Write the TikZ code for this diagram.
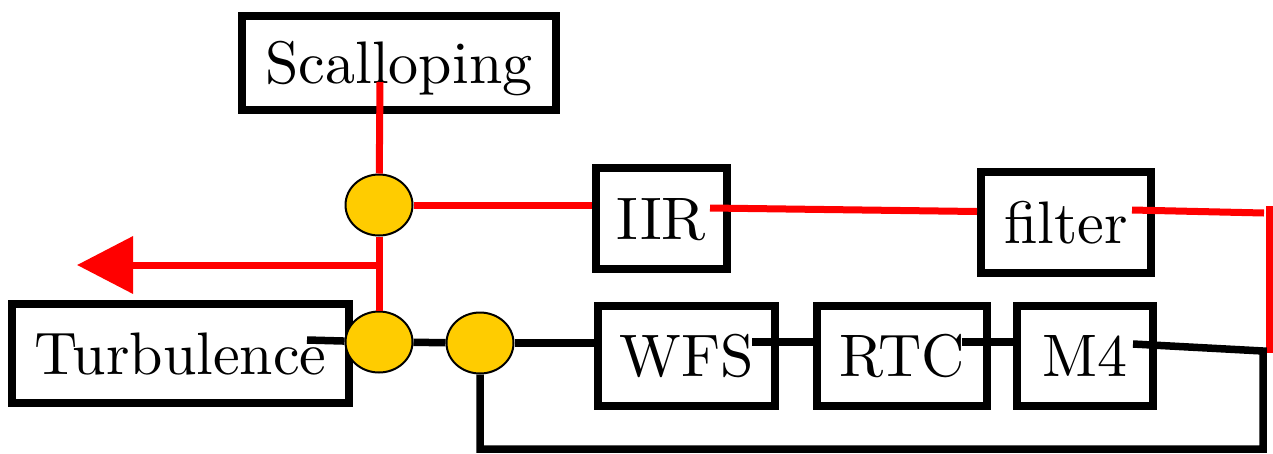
\documentclass[tikz,border=0pt]{standalone}
\usepackage{fontspec}
\IfFontExistsTF{lmroman10-regular.otf}
    {\newfontfamily\blockfont{lmroman10-regular.otf}}
    {\newfontfamily\blockfont{Latin Modern Roman}}
\usetikzlibrary{shapes.geometric, arrows.meta}

\definecolor{sumyellow}{RGB}{255,204,0}

\tikzset{
    block/.style={draw, line width=8pt, rectangle, inner sep=0pt,
        text height=41pt, text depth=0pt,
        font=\blockfont\fontsize{60}{66}\selectfont},
    sum/.style={draw, line width=2pt, ellipse, fill=sumyellow, inner sep=0pt,
        minimum width=67pt, minimum height=61pt},
    redline/.style={draw=red, line width=7pt},
    blackline/.style={draw=black, line width=7.5pt},
}

\begin{document}
\begin{tikzpicture}[x=1pt, y=-1pt]
    \useasboundingbox (0,0) rectangle (1273,453);

    % blocks
    \node[block, minimum width=314pt, minimum height=94pt]  (scal)  at (399,63)      {Scalloping};
    \node[block, minimum width=131pt, minimum height=101pt] (iir)   at (661.5,218.5) {IIR};
    \node[block, minimum width=170pt, minimum height=101pt] (filt)  at (1066,222.5)  {filter};
    \node[block, minimum width=337pt, minimum height=99pt]  (turb)  at (180.5,353.5) {Turbulence};
    \node[block, minimum width=177pt, minimum height=100pt] (wfs)   at (686.5,356)   {WFS};
    \node[block, minimum width=170pt, minimum height=100pt] (rtc)   at (902,356)     {RTC};
    \node[block, minimum width=136pt, minimum height=100pt] (mfour) at (1085,356)    {M4};

    % summing points
    \node[sum] (sumA) at (379,205) {};
    \node[sum] (sumB) at (379,342) {};
    \node[sum] (sumC) at (480,343) {};

    % tap points and corners
    \coordinate (scalTap) at (380,82);
    \coordinate (fbTap)   at (380,265);
    \coordinate (outTip)  at (77,265);
    \coordinate (iirOut)  at (710,208);
    \coordinate (filtOut) at (1132,210);
    \coordinate (rtJoin)  at (1264,213);
    \coordinate (rtTop)   at (1269,206);
    \coordinate (rtBot)   at (1269,353);
    \coordinate (turbOut) at (307,340);
    \coordinate (wfsOut)  at (752,342);
    \coordinate (rtcOut)  at (962,342);
    \coordinate (mOut)    at (1133,344);
    \coordinate (loopTR)  at (1263,351);
    \coordinate (loopBR)  at (1263,449);

    % red path
    \draw[redline] (scalTap) -- (sumA);
    \draw[redline] (sumA) -- (sumB);
    \draw[redline, -{Triangle[length=56pt, width=56pt]}] (fbTap) -- (outTip);
    \draw[redline] (sumA.east) -- (sumA.east -| iir.west);
    \draw[redline] (iirOut) -- ([yshift=11pt]filt.west);
    \draw[redline] (filtOut) -- (rtJoin);
    \draw[redline] (rtTop) -- (rtBot);

    % black loop
    \draw[blackline] (turbOut) -- (sumB);
    \draw[blackline] (sumB) -- (sumC);
    \draw[blackline] (sumC) -- (sumC -| wfs.west);
    \draw[blackline] (wfsOut) -- (wfsOut -| rtc.west);
    \draw[blackline] (rtcOut) -- (rtcOut -| mfour.west);
    \draw[blackline] (mOut) -- (loopTR) -- (loopBR) -- (sumC |- loopBR) -- (sumC);
\end{tikzpicture}
\end{document}
